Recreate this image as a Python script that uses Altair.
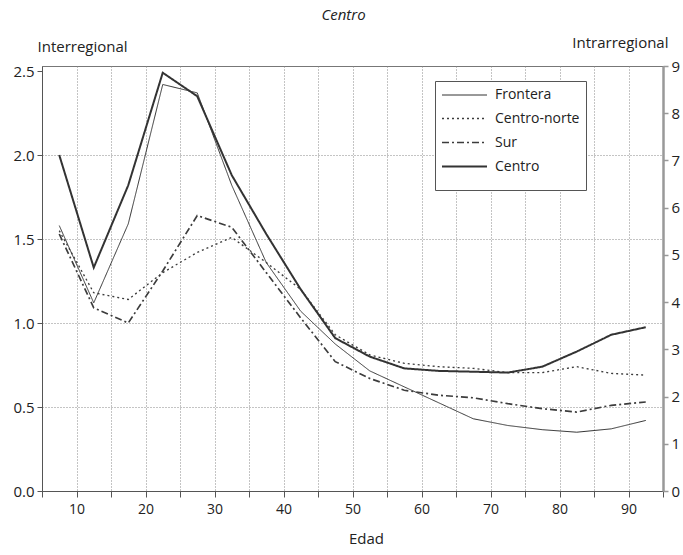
import altair as alt
import pandas as pd

# ---- data ----
edad = [7.5, 12.5, 17.5, 22.5, 27.5, 32.5, 37.5, 42.5, 47.5, 52.5,
        57.5, 62.5, 67.5, 72.5, 77.5, 82.5, 87.5, 92.5]
frontera = [1.58, 1.12, 1.59, 2.42, 2.37, 1.82, 1.36, 1.07, 0.875, 0.715,
            0.62, 0.525, 0.43, 0.39, 0.365, 0.35, 0.37, 0.42]
centro_norte = [1.55, 1.18, 1.14, 1.30, 1.42, 1.51, 1.36, 1.20, 0.93, 0.81,
                0.76, 0.74, 0.73, 0.705, 0.705, 0.74, 0.70, 0.69]
sur = [1.53, 1.09, 1.00, 1.31, 1.64, 1.57, 1.30, 1.03, 0.77, 0.67,
       0.60, 0.57, 0.555, 0.52, 0.49, 0.47, 0.51, 0.53]
centro = [2.00, 1.33, 1.82, 2.49, 2.35, 1.88, 1.53, 1.20, 0.91, 0.80,
          0.73, 0.715, 0.71, 0.705, 0.74, 0.83, 0.93, 0.975]

series = ["Frontera", "Centro-norte", "Sur", "Centro"]
values = [frontera, centro_norte, sur, centro]

left_ticks = [0.0, 0.5, 1.0, 1.5, 2.0, 2.5]
right_ticks = [0, 1, 2, 3, 4, 5, 6, 7, 8, 9]
x_ticks = [5, 10, 15, 20, 25, 30, 35, 40, 45, 50, 55, 60, 65, 70, 75, 80, 85, 90, 95]

rows = []
for s, vals in zip(series, values):
    for e, v in zip(edad, vals):
        rows.append({"edad": e, "valor": v, "serie": s})
df = pd.DataFrame(rows)
df_right = pd.DataFrame({"v": right_ticks})

FONT = "Open Sans"

legend = alt.Legend(
    orient="none", legendX=393, legendY=15,
    title="\u00a0" * 160, titleOrient="bottom", titleFontSize=4, titlePadding=6,
    symbolType="M-1,0H5", symbolSize=225, labelFontSize=14, labelFont=FONT,
    labelColor="#222", labelOffset=37, rowPadding=8, padding=6,
    strokeColor="#555", fillColor="white",
)

lines = alt.Chart(df).mark_line().encode(
    x=alt.X("edad:Q", scale=alt.Scale(domain=[5, 95], nice=False, zero=False),
            axis=alt.Axis(values=x_ticks, title="Edad",
                          labelExpr="datum.value % 10 == 0 ? datum.label : ''",
                          grid=True, gridDash=[1, 2], gridColor="#888",
                          domainColor="#555", tickColor="#555", tickSize=6,
                          labelFontSize=14, labelPadding=5, labelColor="#222",
                          titleFontSize=15, titleFontWeight="normal", titleColor="#222",
                          titleY=47, titleX=324, titleBaseline="middle")),
    y=alt.Y("valor:Q", scale=alt.Scale(domain=[0, 2.53], nice=False),
            axis=alt.Axis(values=left_ticks, format=".1f", title="Interregional",
                          grid=True, gridDash=[1, 2], gridColor="#888",
                          gridOpacity={"condition": {"test": "datum.value > 2.4", "value": 0}, "value": 1},
                          domainColor="#555", tickColor="#555", tickSize=5,
                          labelFontSize=15, labelPadding=3, labelColor="#222",
                          titleAngle=0, titleAlign="left", titleBaseline="bottom",
                          titleX=-5, titleY=-12, titleFontSize=15,
                          titleFontWeight="normal", titleColor="#222")),
    color=alt.Color("serie:N", scale=alt.Scale(domain=series,
                    range=["#333333", "#3c3c3c", "#3c3c3c", "#333333"]), legend=legend),
    strokeDash=alt.StrokeDash("serie:N", scale=alt.Scale(domain=series,
                    range=[[1, 0], [2, 3], [7, 3, 2, 3], [1, 0]]), legend=legend),
    strokeWidth=alt.StrokeWidth("serie:N", scale=alt.Scale(domain=series,
                    range=[1.0, 2.0, 1.7, 3.0]), legend=legend),
    order=alt.Order("serie:N"),
)

right = alt.Chart(df_right).mark_rule(opacity=0).encode(
    y=alt.Y("v:Q", scale=alt.Scale(domain=[0, 9], nice=False),
            axis=alt.Axis(orient="right", values=right_ticks, format="d",
                          title="Intrarregional", grid=False,
                          domainColor="#999", domainWidth=2.5,
                          tickColor="#999", tickSize=5, tickWidth=1.5,
                          labelFontSize=15, labelPadding=3, labelColor="#222",
                          titleAngle=0, titleAlign="right", titleBaseline="bottom",
                          titleX=5, titleY=-16, titleFontSize=15,
                          titleFontWeight="normal", titleColor="#222")),
)

chart = alt.layer(lines, right).resolve_scale(y="independent").properties(
    width=621, height=425,
    padding={"left": 42, "top": 66, "right": 20, "bottom": 64},
    autosize=alt.AutoSizeParams(type="none"),
    title=alt.Title("Centro", fontStyle="italic", fontWeight="normal",
                    fontSize=15, color="#222", font=FONT, dx=-9, dy=-8),
).configure(font=FONT).configure_view(stroke="#777", strokeWidth=1)

chart.save("out.html", embed_options={"renderer": "svg", "actions": False})
